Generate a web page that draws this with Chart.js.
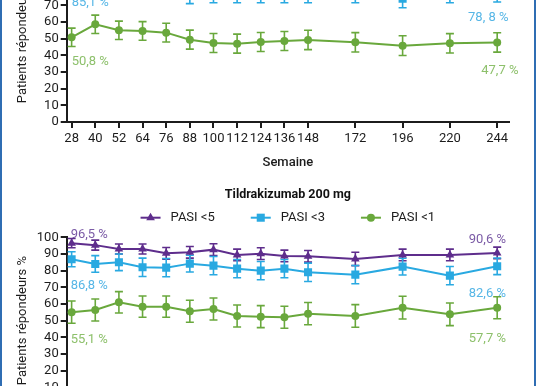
<!DOCTYPE html>
<html>
<head>
<meta charset="utf-8">
<script src="https://cdn.jsdelivr.net/npm/chart.js@4.4.1/dist/chart.umd.min.js"></script>
<style>
  html, body { margin: 0; padding: 0; background: #fff; }
  body { width: 536px; height: 386px; overflow: hidden; position: relative; }
  .wrap { position: absolute; left: 0; width: 536px; }
  #topWrap { top: -60px; height: 237px; }
  #botWrap { top: 180px; height: 279px; }
  .frame { position: absolute; top: 0; bottom: 0; width: 2px; background: #2f6db3; z-index: 2; }
</style>
</head>
<body>
<div class="wrap" id="topWrap"><canvas id="topChart" width="536" height="237"></canvas></div>
<div class="wrap" id="botWrap"><canvas id="botChart" width="536" height="279"></canvas></div>
<div class="frame" style="left:0"></div>
<div class="frame" style="right:0"></div>

<script>
// weeks of follow-up (x axis)
const weeks = [28, 40, 52, 64, 76, 88, 100, 112, 124, 136, 148, 172, 196, 220, 244];
const yTicks = [0, 10, 20, 30, 40, 50, 60, 70, 80, 90, 100];

// upper panel (only its lower part is in view)
const upperPasi3 = [85.1, 84.5, 84, 83, 82.5, 78, 78, 78, 77.5, 78, 78, 78, 74, 78, 78.8];
const upperPasi3Err = [6.5, 6.5, 6.5, 6.5, 6.5, 7, 6.5, 6.5, 6, 6.5, 6.5, 6.5, 5.5, 6.5, 6.8];
const upperPasi1 = [50.8, 58.6, 55.0, 54.6, 53.6, 49.4, 47.4, 47.0, 48.0, 48.6, 49.2, 47.8, 45.8, 47.2, 47.7];
const upperPasi1Err = [5.5, 5.5, 5.5, 5.6, 5.6, 5.7, 5.7, 5.7, 5.7, 5.7, 5.8, 5.8, 5.9, 5.8, 5.8];

// Tildrakizumab 200 mg
const pasi5 = [96.5, 95.3, 93.0, 93.0, 90.4, 91.0, 92.6, 89.4, 90.2, 88.8, 88.6, 87.0, 89.4, 89.4, 90.6];
const pasi5Err = [2.8, 3, 3, 3, 3.5, 3.5, 3.5, 3.5, 3.5, 3.5, 3.5, 4, 3.5, 3.5, 3.5];
const pasi3 = [86.8, 84.0, 85.0, 82.0, 81.8, 84.2, 83.0, 81.2, 80.0, 81.2, 79.0, 77.6, 82.4, 77.0, 82.6];
const pasi3Err = [4.5, 5, 5, 5.5, 5.5, 5, 5.5, 5.5, 5.5, 5.5, 5.5, 5.5, 5, 5.5, 5];
const pasi1 = [55.1, 56.4, 61.0, 58.4, 58.4, 55.6, 57.0, 52.8, 52.4, 52.0, 54.2, 52.8, 57.8, 53.8, 57.7];
const pasi1Err = [6.7, 6.6, 6.4, 6.4, 6.4, 6.6, 6.6, 6.6, 6.6, 6.6, 6.7, 6.8, 6.8, 6.8, 6.6];

const PURPLE = '#5e2d8c', BLUE = '#29a9e1', GREEN = '#69a83c';
const PURPLE_TXT = '#7b5ba6', BLUE_TXT = '#56b6e6', GREEN_TXT = '#8dc06b';
const AXIS = '#1c1c1c';

Chart.defaults.font.family = 'Roboto, "Noto Sans", sans-serif';
Chart.defaults.color = AXIS;

function series(label, values, errors, color, style, radius) {
  return {
    label: label,
    data: weeks.map((w, i) => ({ x: w, y: values[i] })),
    errors: errors,
    borderColor: color,
    backgroundColor: color,
    borderWidth: 2,
    tension: 0,
    pointStyle: style,
    pointRadius: radius,
    pointBorderWidth: 0,
    pointBackgroundColor: color
  };
}

// vertical whiskers with caps
const errorBars = {
  id: 'errorBars',
  beforeDatasetsDraw(chart) {
    const { ctx, scales: { x, y } } = chart;
    chart.data.datasets.forEach(ds => {
      if (!ds.errors) return;
      ctx.save();
      ctx.strokeStyle = ds.borderColor;
      ctx.lineWidth = 1.6;
      ds.data.forEach((p, i) => {
        const px = x.getPixelForValue(p.x);
        const lo = y.getPixelForValue(p.y - ds.errors[i]);
        const hi = y.getPixelForValue(p.y + ds.errors[i]);
        ctx.beginPath();
        ctx.moveTo(px, lo); ctx.lineTo(px, hi);
        ctx.moveTo(px - 4, lo); ctx.lineTo(px + 4, lo);
        ctx.moveTo(px - 4, hi); ctx.lineTo(px + 4, hi);
        ctx.stroke();
      });
      ctx.restore();
    });
  }
};

// percentage labels next to first / last points
const callouts = {
  id: 'callouts',
  afterDatasetsDraw(chart, args, opts) {
    const { ctx, scales: { x, y } } = chart;
    ctx.save();
    ctx.font = '13px Roboto, sans-serif';
    ctx.textBaseline = 'middle';
    (opts.items || []).forEach(it => {
      const data = chart.data.datasets[it.dataset].data;
      const p = it.last ? data[data.length - 1] : data[0];
      ctx.fillStyle = it.color;
      ctx.textAlign = it.last ? 'right' : 'left';
      ctx.fillText(it.text, x.getPixelForValue(p.x) + it.dx, y.getPixelForValue(p.y) + it.dy);
    });
    ctx.restore();
  }
};

// legend with a short line through the marker
const lineLegend = {
  id: 'lineLegend',
  afterDraw(chart, args, opts) {
    if (!opts.display) return;
    const { ctx, chartArea } = chart;
    const sets = chart.data.datasets;
    ctx.save();
    ctx.font = '13px Roboto, sans-serif';
    ctx.textBaseline = 'middle';
    ctx.textAlign = 'left';
    const widths = sets.map(ds => 30 + ctx.measureText(ds.label).width);
    const total = widths.reduce((a, b) => a + b, 0) + opts.gap * (sets.length - 1);
    let left = (chartArea.left + chartArea.right) / 2 - total / 2;
    const cy = chartArea.top + opts.offsetY;
    sets.forEach((ds, i) => {
      const cx = left + 10;
      ctx.strokeStyle = ds.borderColor;
      ctx.lineWidth = 2;
      ctx.beginPath();
      ctx.moveTo(cx - 10, cy); ctx.lineTo(cx + 10, cy);
      ctx.stroke();
      ctx.fillStyle = ds.borderColor;
      Chart.helpers.drawPoint(ctx, { pointStyle: ds.pointStyle, radius: ds.pointRadius, rotation: 0, borderWidth: 0 }, cx, cy);
      ctx.fillStyle = '#1c1c1c';
      ctx.fillText(ds.label, cx + 20, cy);
      left += widths[i] + opts.gap;
    });
    ctx.restore();
  }
};

function scalesConfig() {
  const grid = { display: true, drawOnChartArea: false, drawTicks: true, tickLength: 6, lineWidth: 2, color: AXIS };
  const border = { display: true, width: 2, color: AXIS };
  const tickFont = { size: 13 };
  return {
    x: {
      type: 'linear', min: 25.5, max: 250,
      grid: grid, border: border,
      afterBuildTicks: s => { s.ticks = weeks.map(v => ({ value: v })); },
      afterFit: s => { s.height = 55; },
      ticks: { autoSkip: false, maxRotation: 0, padding: 3, font: tickFont, color: AXIS, callback: v => String(v) },
      title: { display: true, text: 'Semaine', font: { size: 13, weight: 500 }, color: AXIS, padding: { top: 0, bottom: 6 } }
    },
    y: {
      min: 0, max: 100,
      grid: grid, border: border,
      afterBuildTicks: s => { s.ticks = yTicks.map(v => ({ value: v })); },
      afterFit: s => { s.width = 66.7; },
      ticks: { autoSkip: false, padding: 2, font: tickFont, color: AXIS },
      title: { display: true, text: 'Patients répondeurs %', font: { size: 13 }, color: AXIS, padding: { top: 15.2, bottom: 0 } }
    }
  };
}

new Chart(document.getElementById('topChart'), {
  type: 'line',
  data: {
    datasets: [
      series('PASI <3', upperPasi3, upperPasi3Err, BLUE, 'rect', 5.7),
      series('PASI <1', upperPasi1, upperPasi1Err, GREEN, 'circle', 4)
    ]
  },
  options: {
    responsive: false,
    animation: false,
    devicePixelRatio: 1,
    layout: { padding: { top: 15.3, right: 27, left: 0, bottom: 0 } },
    scales: scalesConfig(),
    plugins: {
      legend: { display: false },
      tooltip: { enabled: false },
      lineLegend: { display: false },
      callouts: {
        items: [
          { dataset: 0, last: false, text: '85,1 %', dx: 0, dy: 23, color: BLUE_TXT },
          { dataset: 1, last: false, text: '50,8 %', dx: 0, dy: 24.7, color: GREEN_TXT },
          { dataset: 0, last: true, text: '78, 8 %', dx: 11.3, dy: 27.4, color: BLUE_TXT },
          { dataset: 1, last: true, text: '47,7 %', dx: 21.3, dy: 28, color: GREEN_TXT }
        ]
      }
    }
  },
  plugins: [errorBars, callouts, lineLegend]
});

new Chart(document.getElementById('botChart'), {
  type: 'line',
  data: {
    datasets: [
      series('PASI <5', pasi5, pasi5Err, PURPLE, 'triangle', 5),
      series('PASI <3', pasi3, pasi3Err, BLUE, 'rect', 5.7),
      series('PASI <1', pasi1, pasi1Err, GREEN, 'circle', 4)
    ]
  },
  options: {
    responsive: false,
    animation: false,
    devicePixelRatio: 1,
    layout: { padding: { top: 0, right: 27, left: 0, bottom: 0 } },
    scales: scalesConfig(),
    plugins: {
      legend: { display: false },
      tooltip: { enabled: false },
      title: {
        display: true,
        text: 'Tildrakizumab 200 mg',
        fullSize: false,
        color: '#111',
        font: { size: 12.5, weight: 'bold' },
        padding: { top: 7.5, bottom: 34.8 }
      },
      lineLegend: { display: true, offsetY: -19.6, gap: 36 },
      callouts: {
        items: [
          { dataset: 0, last: false, text: '96,5 %', dx: -1, dy: -8.7, color: PURPLE_TXT },
          { dataset: 1, last: false, text: '86,8 %', dx: -1, dy: 26.2, color: BLUE_TXT },
          { dataset: 2, last: false, text: '55,1 %', dx: -1, dy: 27.8, color: GREEN_TXT },
          { dataset: 0, last: true, text: '90,6 %', dx: 8.8, dy: -13.5, color: PURPLE_TXT },
          { dataset: 1, last: true, text: '82,6 %', dx: 8.8, dy: 27.2, color: BLUE_TXT },
          { dataset: 2, last: true, text: '57,7 %', dx: 8.8, dy: 30.7, color: GREEN_TXT }
        ]
      }
    }
  },
  plugins: [errorBars, callouts, lineLegend]
});
</script>
</body>
</html>
